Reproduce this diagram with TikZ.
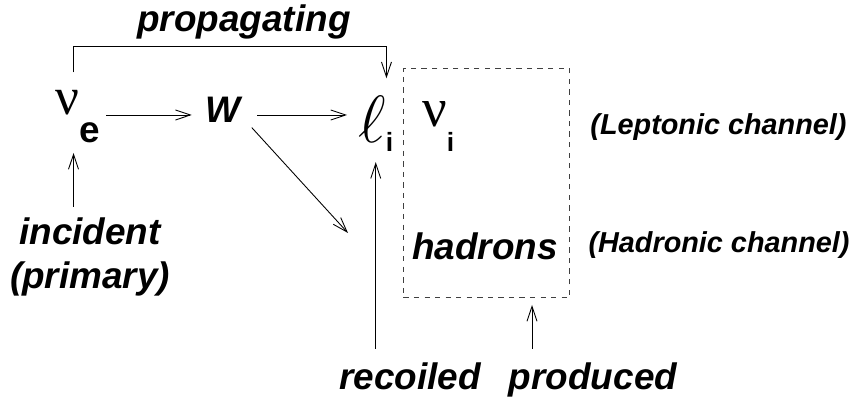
\documentclass[tikz,border=0pt]{standalone}
\usepackage{fix-cm}
\usepackage{fontspec}
\setmainfont{Liberation Sans}
\newfontfamily\greekfont{Liberation Serif}
\usetikzlibrary{arrows.meta}

\begin{document}
\begin{tikzpicture}[
		arr/.style={-{Straight Barb[length=8.5pt,width=5.7pt]}, line width=0.5pt},
		lbl/.style={font=\fontsize{21}{25}\selectfont\bfseries\itshape, inner sep=0},
		chan/.style={font=\fontsize{16.4}{20}\selectfont\bfseries\itshape, inner sep=0},
		sym/.style={inner sep=0, anchor=base west}]
		\useasboundingbox (0,0) rectangle (17.12,8);
		% particles
		\node[sym] (nue) at (1.1,5.7) {\fontsize{30}{30}\selectfont{\greekfont ν}\raisebox{-15.5pt}{\fontsize{21}{21}\selectfont\bfseries e}};
		\node[lbl, anchor=base] (W) at (4.45,5.54) {W};
		\node[sym] (ell) at (7.16,5.14) {\fontsize{38}{38}\selectfont$\ell$\raisebox{-5pt}{\fontsize{15}{15}\selectfont\bfseries i}};
		\node[sym] (nui) at (8.44,5.46) {\fontsize{31}{31}\selectfont{\greekfont ν}\raisebox{-14pt}{\fontsize{15}{15}\selectfont\bfseries i}};
		\node[lbl, anchor=base] (had) at (9.7,2.8) {hadrons};
		% products box
		\node[draw, dashed, dash pattern=on 3pt off 3pt, line width=0.5pt, black!75, minimum width=3.32cm, minimum height=4.58cm, anchor=south west, inner sep=0] (box) at (8.06,2.04) {};
		% labels
		\node[lbl, anchor=base] (prop) at (4.88,7.36) {propagating};
		\node[lbl, align=center, anchor=north] (inc) at (1.8,3.66) {incident\\(primary)};
		\node[lbl, anchor=base] (rec) at (8.2,0.2) {recoiled};
		\node[lbl, anchor=base] (prod) at (11.86,0.2) {produced};
		\node[chan, anchor=base] (lep) at (14.37,5.3) {(Leptonic channel)};
		\node[chan, anchor=base] (hch) at (14.38,2.94) {(Hadronic channel)};
		\coordinate (tip) at (6.96,3.34);
		\coordinate (pl) at ([xshift=-0.08cm, yshift=0.36cm]nue.north);
		\coordinate (pr) at ([xshift=-0.14cm, yshift=0.36cm]ell.north east);
		% connectors
		\draw [arr, shorten <=0.12cm, shorten >=0.26cm] (nue.base east) -- (nue.base east -| W.west);
		\draw [arr, shorten <=0.34cm, shorten >=0.22cm] (W.east |- nue.base) -- (ell.west |- nue.base);
		\draw [arr, shorten <=0.34cm] (W.east |- nue.base) -- (tip);
		\draw [arr, shorten <=0.2cm, shorten >=0.2cm] (inc.north -| pl) -- (nue.south -| pl);
		\draw [arr] (pl) -- ++(0,0.52) -| (pr);
		\draw [arr, shorten <=0.28cm, shorten >=0.2cm] (rec.north -| ell.south) -- (ell.south);
		\draw [arr, shorten >=0.14cm] ([xshift=-1.22cm, yshift=0.28cm]prod.north) -- ([xshift=-1.22cm]prod.north |- box.south);
	\end{tikzpicture}
\end{document}
